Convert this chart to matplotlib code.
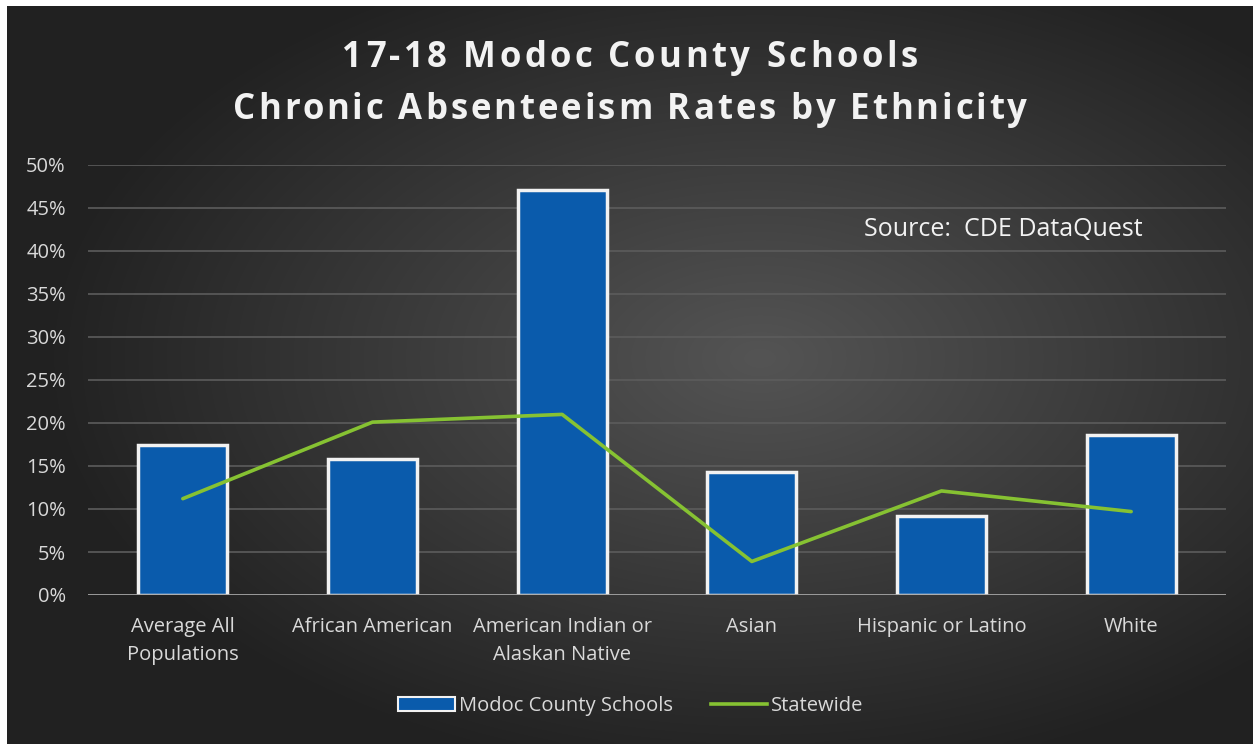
import numpy as np
import matplotlib
matplotlib.use("Agg")
import matplotlib.pyplot as plt
from matplotlib.patches import Rectangle
from matplotlib.lines import Line2D
from matplotlib.font_manager import FontProperties

categories = ["Average All\nPopulations", "African American", "American Indian or\nAlaskan Native",
              "Asian", "Hispanic or Latino", "White"]
modoc = [17.4, 15.8, 47.1, 14.3, 9.2, 18.6]
statewide = [11.2, 20.1, 21.0, 3.9, 12.1, 9.7]
yticks = list(range(0, 55, 5))

title_lines = ["17-18 Modoc County Schools", "Chronic Absenteeism Rates by Ethnicity"]

W, H = 1253, 744
TEXT = "#D9D9D9"
BLUE = "#0A5BAC"
GREEN = "#86C232"


def spaced_text(fig, cx, baseline, s, width_px, prop, color):
    """Draw text centred at cx (pixels) with letter spacing so it spans width_px."""
    renderer = fig.canvas.get_renderer()
    natural = [renderer.get_text_width_height_descent(s[:i], prop, ismath=False)[0]
               if i else 0.0 for i in range(len(s) + 1)]
    gap = (width_px - natural[-1]) / (len(s) - 1)
    x0 = cx - width_px / 2
    for i, ch in enumerate(s):
        if ch == " ":
            continue
        fig.text((x0 + natural[i] + i * gap) / W, 1 - baseline / H, ch, ha="left",
                 va="baseline", fontproperties=prop, color=color)


fig = plt.figure(figsize=(W / 100, H / 100), dpi=100)
fig.patch.set_facecolor("white")

# gradient background for the chart area
bg = fig.add_axes([7 / W, 0, 1 - 7 / W, 1 - 6 / H])
yy, xx = np.mgrid[0:200, 0:340]
cx, cy = 205, 95
d = np.sqrt(((xx - cx) / 340) ** 2 + ((yy - cy) / 200) ** 2)
shade = np.clip(0.33 - 0.25 * np.clip(d / 0.72, 0, 1), 0.13, 0.33)
bg.imshow(np.dstack([shade] * 3), aspect="auto", extent=[0, 1, 0, 1], interpolation="bicubic")
bg.axis("off")

ax = fig.add_axes([88 / W, 1 - 595 / H, (1226 - 88) / W, (595 - 165) / H])
ax.patch.set_alpha(0)
x = np.arange(len(categories))

for yv in yticks[1:]:
    ax.axhline(yv, color="#5c5c5c", lw=1.2, zorder=1)

ax.bar(x, modoc, width=0.47, color=BLUE, edgecolor="#F2F2F2", linewidth=2.5, zorder=3)
ax.plot(x, statewide, color=GREEN, lw=2.6, zorder=4, solid_capstyle="round")
ax.axhline(0, color="#A6A6A6", lw=2, zorder=5)

ax.set_xlim(-0.5, len(categories) - 0.5)
ax.set_ylim(0, 50)
ax.set_yticks(yticks)
ax.set_yticklabels([f"{v}%" for v in yticks])
ax.set_xticks(x)
ax.set_xticklabels(categories)
for s in ax.spines.values():
    s.set_visible(False)
ax.tick_params(length=0, colors=TEXT, labelsize=14.5)
ax.tick_params(axis="x", pad=16)
ax.tick_params(axis="y", pad=16)
for lab in ax.get_xticklabels() + ax.get_yticklabels():
    lab.set_fontfamily("Open Sans")
    lab.set_linespacing(1.55)

title_prop = FontProperties(family="Open Sans", weight="bold", size=25)
spaced_text(fig, 630, 67, title_lines[0], 575, title_prop, "#F2F2F2")
spaced_text(fig, 630, 119, title_lines[1], 794, title_prop, "#F2F2F2")

fig.text(1003 / W, 1 - 229 / H, "Source:  CDE DataQuest", ha="center", va="center",
         fontsize=18, color="#F2F2F2", fontfamily="Open Sans")

handles = [Rectangle((0, 0), 1, 1, facecolor=BLUE, edgecolor="#F2F2F2", lw=1.5),
           Line2D([0], [0], color=GREEN, lw=2.6)]
leg = fig.legend(handles, ["Modoc County Schools", "Statewide"], loc="center",
                 bbox_to_anchor=(631 / W, 1 - 706 / H), ncol=2, frameon=False,
                 handlelength=2.8, handleheight=0.7, columnspacing=1.9, handletextpad=0.2,
                 prop={"family": "Open Sans", "size": 14.5})
for t in leg.get_texts():
    t.set_color(TEXT)

fig.savefig("out.png", dpi=100, facecolor=fig.get_facecolor())
